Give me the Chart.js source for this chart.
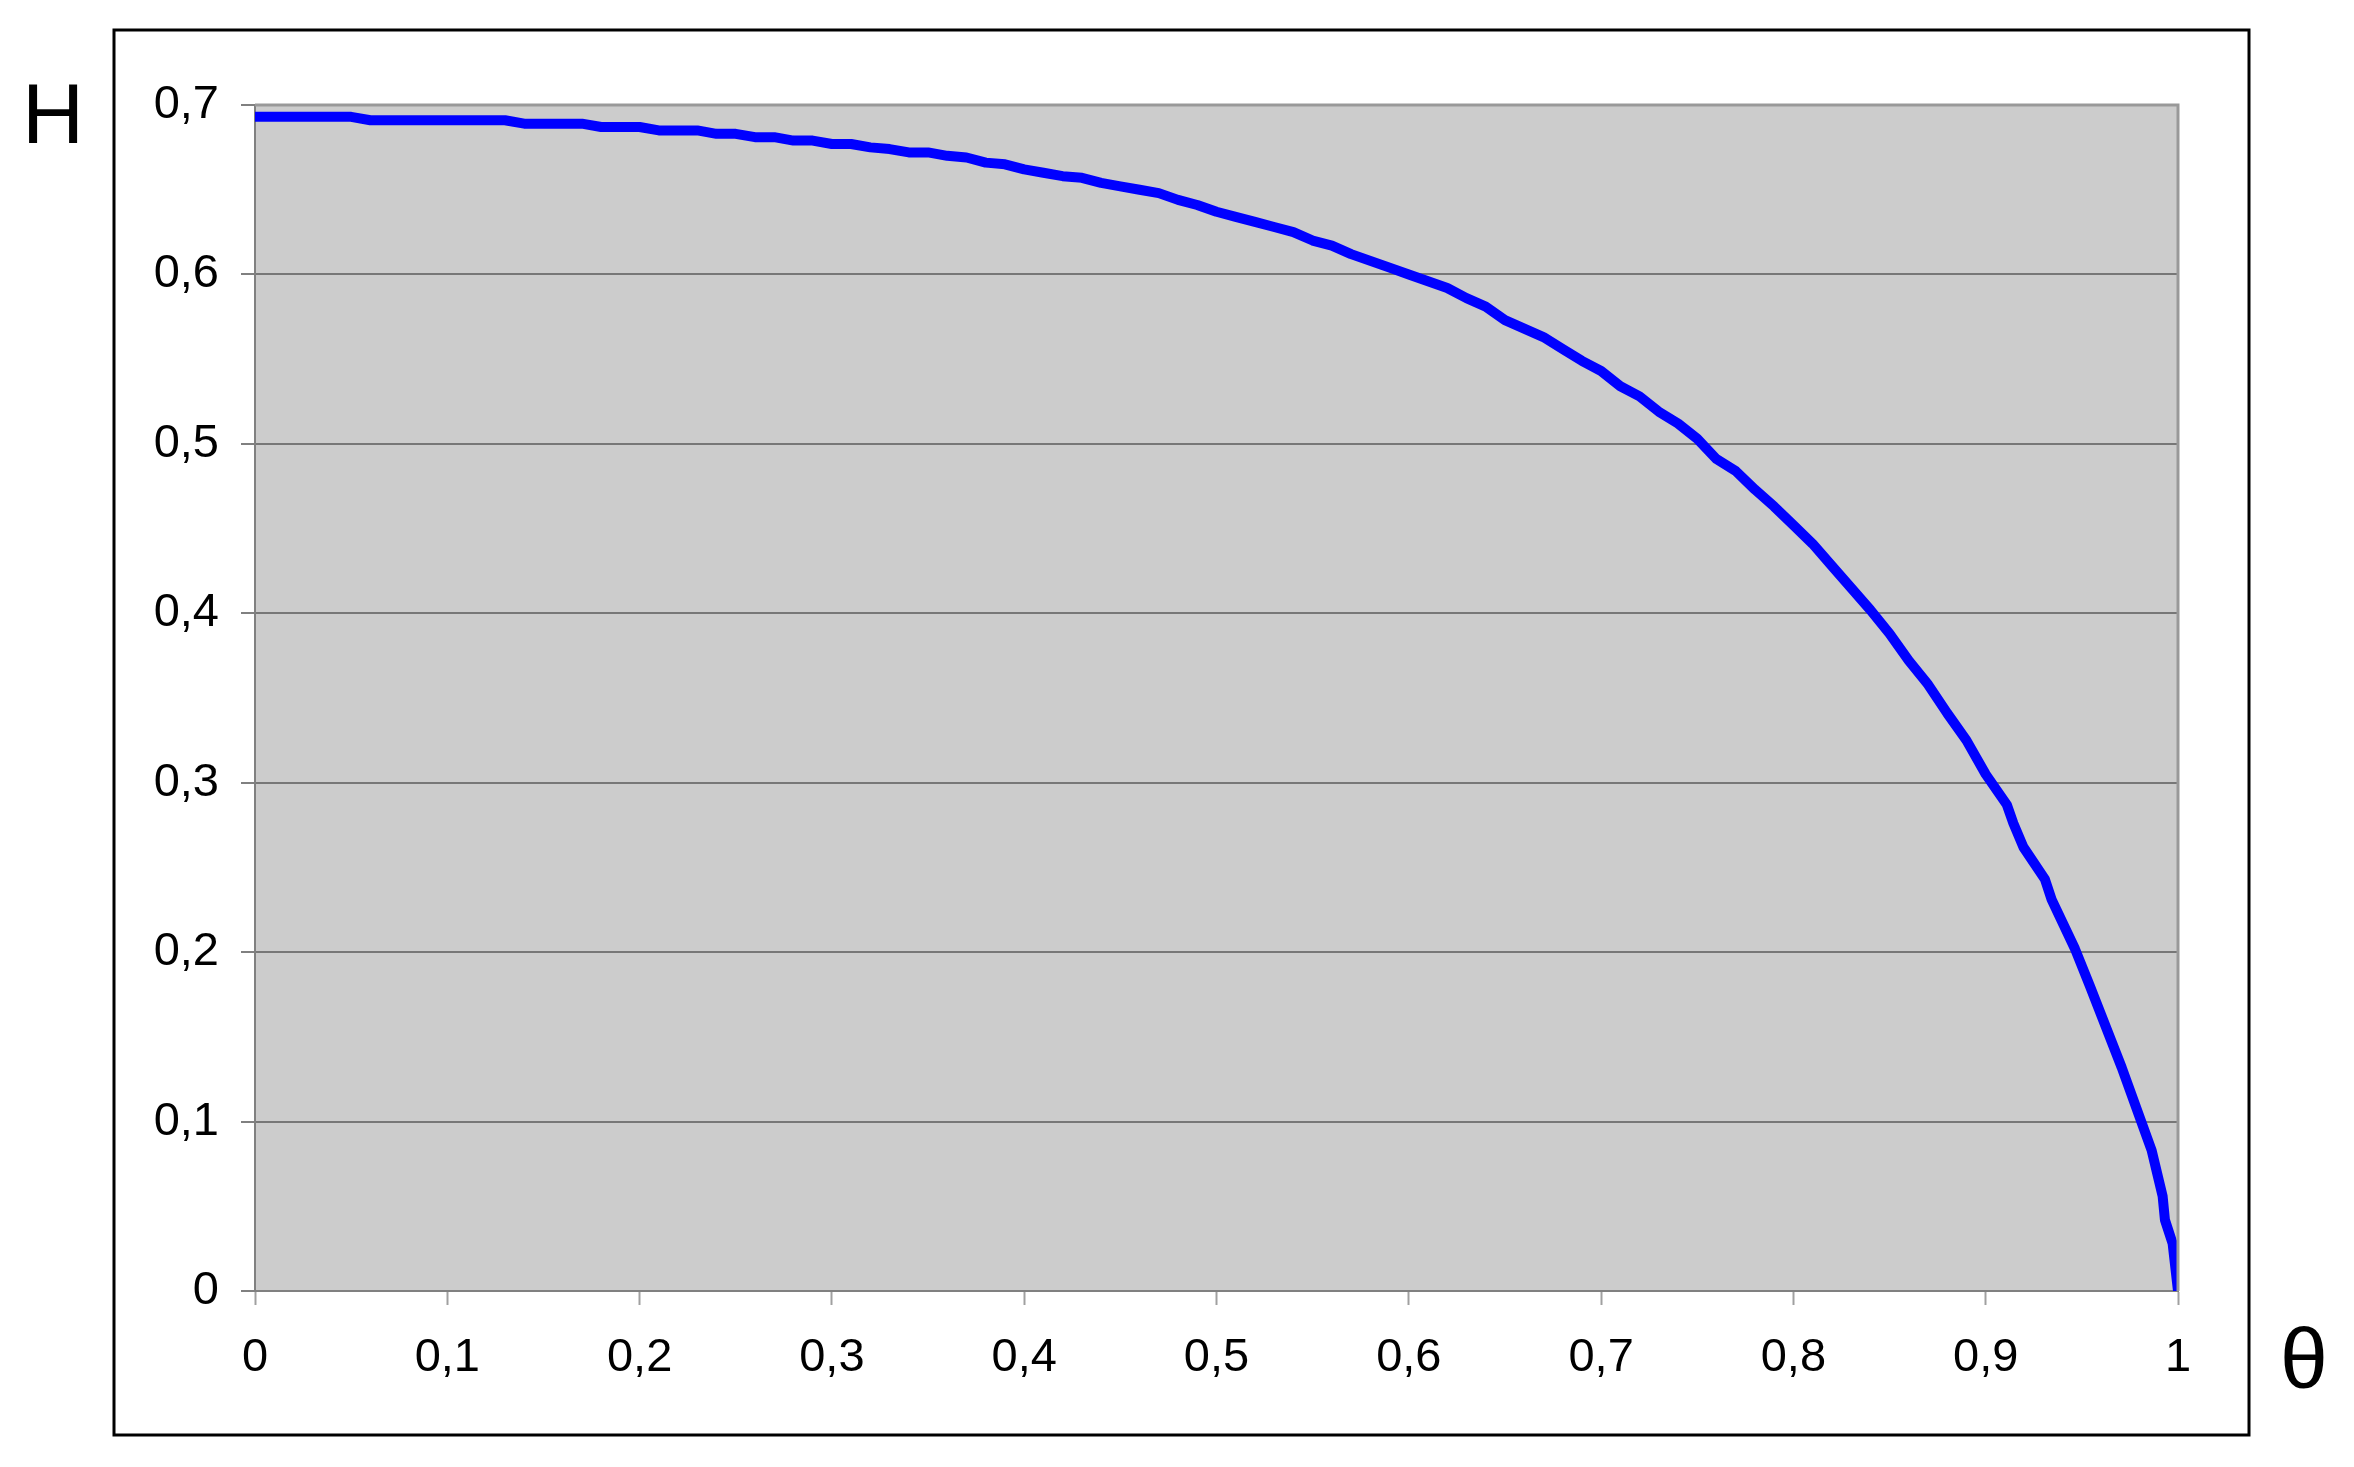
<!DOCTYPE html>
<html>
<head>
<meta charset="utf-8">
<title>H(θ)</title>
<script src="https://cdn.jsdelivr.net/npm/chart.js@4/dist/chart.umd.min.js"></script>
<style>
  html, body { margin: 0; padding: 0; background: #ffffff; }
  #chart { display: block; }
</style>
</head>
<body>
<canvas id="chart" width="2354" height="1467"></canvas>
<script>
// Values
const thetaValues = [
  0.00, 0.01, 0.02, 0.03, 0.04, 0.05, 0.06, 0.07, 0.08, 0.09,
  0.10, 0.11, 0.12, 0.13, 0.14, 0.15, 0.16, 0.17, 0.18, 0.19,
  0.20, 0.21, 0.22, 0.23, 0.24, 0.25, 0.26, 0.27, 0.28, 0.29,
  0.30, 0.31, 0.32, 0.33, 0.34, 0.35, 0.36, 0.37, 0.38, 0.39,
  0.40, 0.41, 0.42, 0.43, 0.44, 0.45, 0.46, 0.47, 0.48, 0.49,
  0.50, 0.51, 0.52, 0.53, 0.54, 0.55, 0.56, 0.57, 0.58, 0.59,
  0.60, 0.61, 0.62, 0.63, 0.64, 0.65, 0.66, 0.67, 0.68, 0.69,
  0.70, 0.71, 0.72, 0.73, 0.74, 0.75, 0.76, 0.77, 0.78, 0.79,
  0.80, 0.81, 0.82, 0.83, 0.84, 0.85, 0.86, 0.87, 0.88, 0.89,
  0.90, 0.911, 0.9144, 0.9196, 0.9308, 0.9343, 0.9464, 0.9542, 0.9707, 0.9863,
  0.992, 0.9932, 0.9972, 1.00
];

const hValues = [
  0.693, 0.693, 0.693, 0.693, 0.693, 0.693, 0.691, 0.691, 0.691, 0.691,
  0.691, 0.691, 0.691, 0.691, 0.689, 0.689, 0.689, 0.689, 0.687, 0.687,
  0.687, 0.685, 0.685, 0.685, 0.683, 0.683, 0.681, 0.681, 0.679, 0.679,
  0.677, 0.677, 0.675, 0.674, 0.672, 0.672, 0.670, 0.669, 0.666, 0.665,
  0.662, 0.660, 0.658, 0.657, 0.654, 0.652, 0.650, 0.648, 0.644, 0.641,
  0.637, 0.634, 0.631, 0.628, 0.625, 0.620, 0.617, 0.612, 0.608, 0.604,
  0.600, 0.596, 0.592, 0.586, 0.581, 0.573, 0.568, 0.563, 0.556, 0.549,
  0.543, 0.534, 0.528, 0.519, 0.512, 0.503, 0.491, 0.484, 0.473, 0.463,
  0.452, 0.441, 0.428, 0.415, 0.402, 0.388, 0.372, 0.358, 0.341, 0.325,
  0.305, 0.287, 0.276, 0.262, 0.243, 0.231, 0.202, 0.180, 0.132, 0.083,
  0.056, 0.042, 0.028, 0.000
];

const xTicks = [0, 0.1, 0.2, 0.3, 0.4, 0.5, 0.6, 0.7, 0.8, 0.9, 1];
const yTicks = [0, 0.1, 0.2, 0.3, 0.4, 0.5, 0.6, 0.7];

// Decimal comma, as in the original
const fmt = (v) => String(Math.round(v * 10) / 10).replace('.', ',');

const FONT = '"Liberation Sans", Arial, sans-serif';

// Grey plot background, plot frame, outer box and the H / θ labels
const framePlugin = {
  id: 'frame',
  beforeDraw(chart) {
    const { ctx, chartArea: a } = chart;
    ctx.save();
    ctx.fillStyle = '#ffffff';
    ctx.fillRect(0, 0, chart.width, chart.height);
    ctx.strokeStyle = '#000000';
    ctx.lineWidth = 3;
    ctx.strokeRect(114, 30, 2249 - 114, 1435 - 30);
    ctx.fillStyle = '#cccccc';
    ctx.fillRect(a.left, a.top, a.right - a.left, a.bottom - a.top);
    ctx.restore();
  },
  afterDatasetsDraw(chart) {
    const { ctx, chartArea: a } = chart;
    ctx.save();
    ctx.strokeStyle = '#999999';
    ctx.lineWidth = 3;
    ctx.beginPath();
    ctx.moveTo(a.left, a.top);
    ctx.lineTo(a.right, a.top);
    ctx.lineTo(a.right, a.bottom);
    ctx.stroke();
    ctx.fillStyle = '#000000';
    ctx.font = '86px ' + FONT;
    ctx.textAlign = 'center';
    ctx.textBaseline = 'alphabetic';
    ctx.fillText('H', 53, 143);
    ctx.fillText('θ', 2304, 1388);
    ctx.restore();
  }
};

const ctx = document.getElementById('chart').getContext('2d');

new Chart(ctx, {
  type: 'line',
  data: {
    datasets: [{
      data: thetaValues.map((t, i) => ({ x: t, y: hValues[i] })),
      borderColor: '#0000ff',
      borderWidth: 10,
      pointRadius: 0,
      tension: 0,
      fill: false,
      borderJoinStyle: 'round'
    }]
  },
  options: {
    responsive: false,
    animation: false,
    devicePixelRatio: 1,
    layout: { padding: { left: 0, top: 105, right: 176, bottom: 0 } },
    plugins: {
      legend: { display: false },
      tooltip: { enabled: false }
    },
    scales: {
      x: {
        type: 'linear',
        min: 0,
        max: 1,
        afterFit: (scale) => { scale.height = 1467 - 1291; },
        afterBuildTicks: (scale) => { scale.ticks = xTicks.map(v => ({ value: v })); },
        ticks: {
          callback: fmt,
          color: '#000000',
          padding: 25,
          maxRotation: 0,
          font: { family: FONT, size: 47 }
        },
        grid: {
          drawOnChartArea: false,
          drawTicks: true,
          tickLength: 14,
          tickColor: '#a0a0a0',
          tickWidth: 2
        },
        border: { display: true, color: '#808080', width: 2 }
      },
      y: {
        min: 0,
        max: 0.7,
        afterFit: (scale) => { scale.width = 255; },
        afterBuildTicks: (scale) => { scale.ticks = yTicks.map(v => ({ value: v })); },
        ticks: {
          callback: fmt,
          color: '#000000',
          padding: 22,
          font: { family: FONT, size: 47 }
        },
        grid: {
          color: '#777777',
          lineWidth: 2,
          tickLength: 14,
          tickColor: '#808080',
          tickWidth: 2
        },
        border: { display: true, color: '#808080', width: 2 }
      }
    }
  },
  plugins: [framePlugin]
});
</script>
</body>
</html>
